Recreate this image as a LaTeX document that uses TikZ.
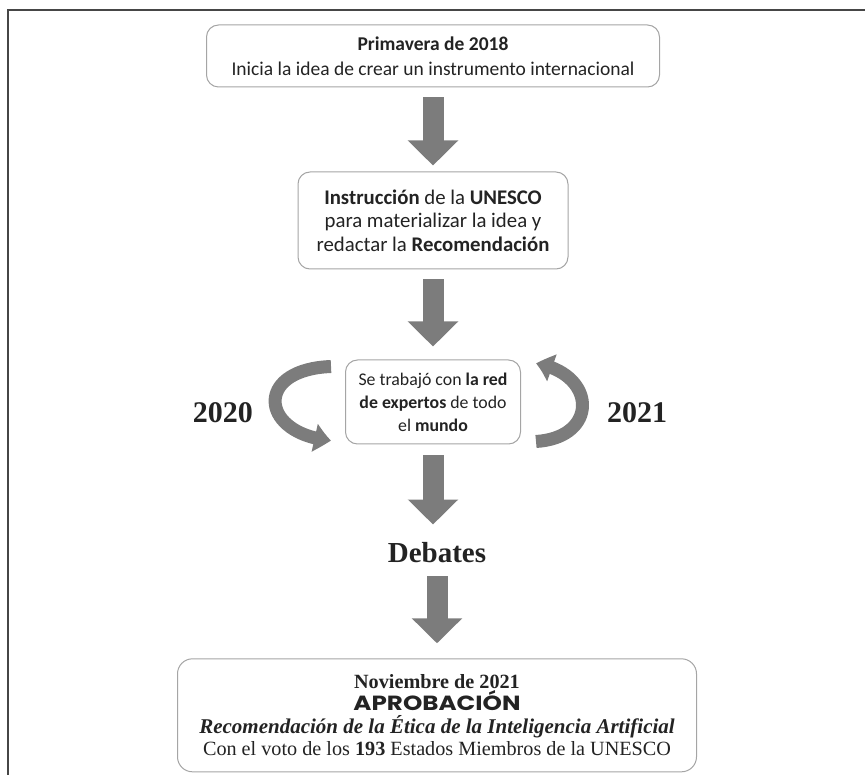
\documentclass[tikz,border=0pt]{standalone}
\usepackage{fontspec}
\setmainfont{Liberation Serif}
\newfontfamily\carlito{Carlito}
\newfontfamily\poppins[FakeStretch=1.2]{Poppins}
\usetikzlibrary{positioning, calc, arrows.meta, bending}
\tikzset{>={Stealth}}
\definecolor{arrowgray}{RGB}{124,124,124}
\definecolor{boxgray}{RGB}{165,165,165}
\definecolor{framegray}{RGB}{70,70,70}
\definecolor{textgray}{RGB}{35,35,35}

\begin{document}
\begin{tikzpicture}[
      x=1pt, y=-1pt,
      block/.style={rectangle, draw=boxgray, fill=white, rounded corners=12pt, line width=1pt, align=center, inner sep=0pt, text=textgray, font=\carlito\fontsize{19.5}{24.5}\selectfont},
      lab/.style={inner sep=0pt, text=textgray, font=\fontsize{30}{30}\selectfont\bfseries},
      bigarrow/.style={draw=arrowgray, line width=21pt, -{Triangle[width=49pt, length=25pt]}},
      curvearrow/.style={draw=arrowgray, line width=13pt, -{Triangle[width=27pt, length=17pt, bend]}}
    ]
    \useasboundingbox (0,0) rectangle (865,775);
    \draw[framegray, line width=1.5pt] (8,775) -- (8,10) -- (865,10);

    % 1. PRIMAVERA DE 2018
    \node[block, minimum width=453pt, minimum height=62pt] (idea) at (433,56) {
      \textbf{Primavera de 2018}\\
      Inicia la idea de crear un instrumento internacional
    };

    % 2. INSTRUCCION
    \node[block, minimum width=270pt, minimum height=97pt, below=84pt of idea, font=\carlito\fontsize{20.8}{23.5}\selectfont] (instr) {
      \textbf{Instrucción} de la \textbf{UNESCO}\\
      para materializar la idea y\\
      redactar la \textbf{Recomendación}
    };

    % 3. RED DE EXPERTOS
    \node[block, minimum width=175pt, minimum height=84pt, below=90pt of instr, font=\carlito\fontsize{17.8}{23}\selectfont] (experts) {
      Se trabajó con \textbf{la red}\\
      \textbf{de expertos} de todo\\
      el \textbf{mundo}
    };
    \node[lab, left=92pt of experts, yshift=-11pt] (y2020) {2020};
    \node[lab, right=86pt of experts, yshift=-11pt] (y2021) {2021};

    % 4. DEBATES
    \node[lab, below=98pt of experts, xshift=4pt, font=\fontsize{29}{29}\selectfont\bfseries] (debates) {Debates};

    % 5. APROBACION
    \node[block, minimum width=519pt, minimum height=113pt, rounded corners=15pt, below=95pt of debates, font=\fontsize{20.2}{22.5}\selectfont] (approval) {
      \textbf{Noviembre de 2021}\\
      {\poppins\fontsize{20.5}{22.5}\selectfont\bfseries APROBACIÓN}\\
      {\fontsize{21}{22.5}\selectfont\textbf{\textit{Recomendación de la Ética de la Inteligencia Artificial}}}\\
      Con el voto de los \textbf{193} Estados Miembros de la UNESCO
    };

    %%% MAIN VERTICAL FLOW
    \draw[bigarrow, shorten <=10pt, shorten >=6pt] (idea) -- (instr);
    \draw[bigarrow, shorten <=10pt, shorten >=13pt] (instr) -- (experts);
    \draw[bigarrow, shorten <=11pt, shorten >=18pt] (experts.south) -- (experts.south |- debates.north);
    \draw[bigarrow, shorten <=13pt, shorten >=15pt] (debates) -- (approval);

    %%% YEARLY LOOPS
    \coordinate (ltail) at ([xshift=-14pt, yshift=-7pt]experts.north west);
    \coordinate (lhead) at ([xshift=-14pt, yshift=4pt]experts.south west);
    \coordinate (rtail) at ([xshift=15pt, yshift=3pt]experts.south east);
    \coordinate (rhead) at ([xshift=15pt, yshift=-4pt]experts.north east);
    \draw[curvearrow] (ltail) .. controls +(-78,3) and +(-71,-6) .. (lhead);
    \draw[curvearrow] (rtail) .. controls +(63,-4) and +(61,10) .. (rhead);
    \end{tikzpicture}
\end{document}
